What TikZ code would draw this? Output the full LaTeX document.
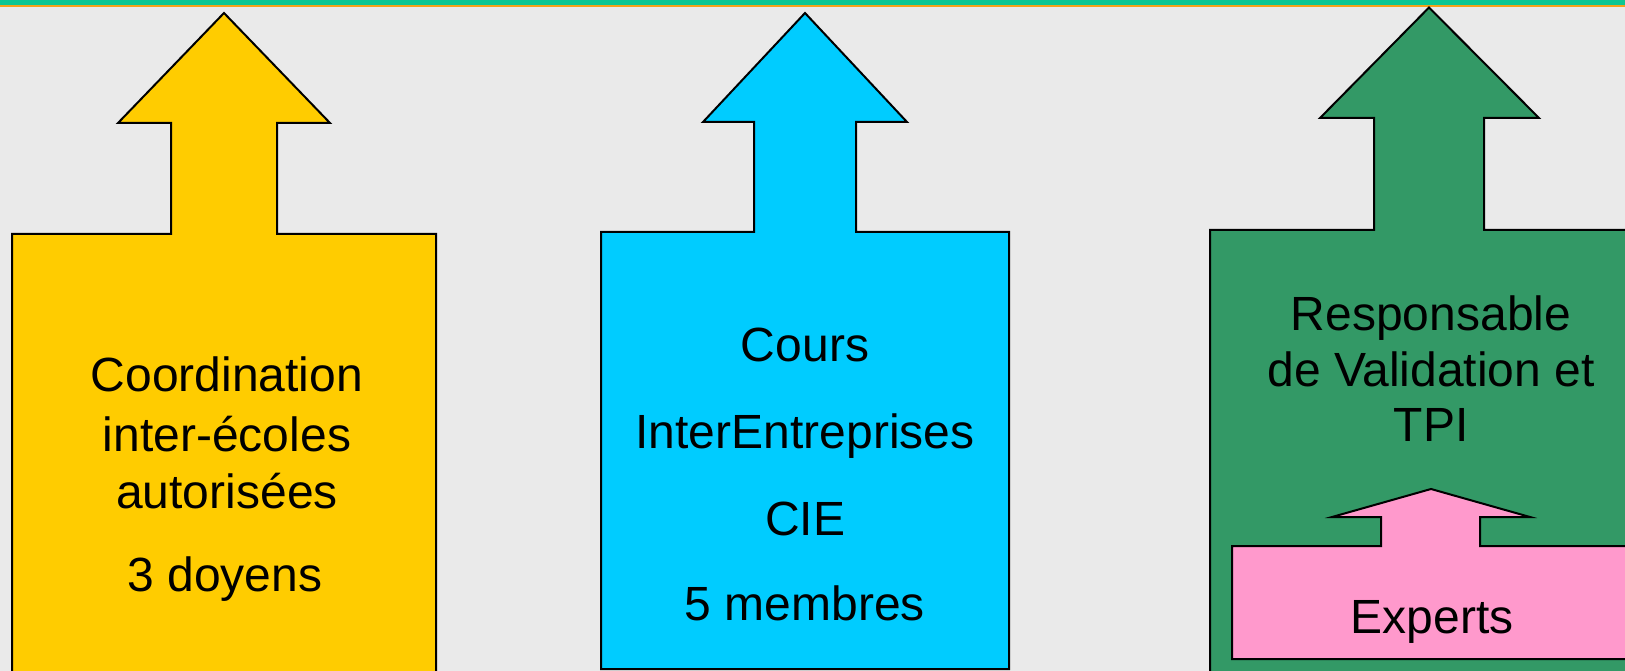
\documentclass[tikz,border=0pt]{standalone}
\usepackage{fontspec}
\setmainfont{Liberation Sans}
\definecolor{bgc}{HTML}{EAEAEA}
\definecolor{bandc}{HTML}{0CC793}
\definecolor{linec}{HTML}{F7A21B}
\definecolor{yel}{HTML}{FFCC00}
\definecolor{cya}{HTML}{00CCFF}
\definecolor{grn}{HTML}{339966}
\definecolor{pnk}{HTML}{FF99CC}
\tikzset{
  arrowshape/.style={draw=black, line width=2pt, line join=miter},
  lbl/.style={anchor=base, inner sep=0pt, font=\fontsize{48}{56}\selectfont, text=black}
}
\begin{document}
\begin{tikzpicture}[x=1pt,y=-1pt]
\useasboundingbox (0,0) rectangle (1625,671);
\clip (0,0) rectangle (1625,671);
\fill[bgc] (0,0) rectangle (1625,671);
\fill[bandc] (0,0) rectangle (1625,4.8);
\fill[linec] (0,4.8) rectangle (1625,6.7);
% yellow
\filldraw[arrowshape, fill=yel] (12,690) -- (12,234) -- (171,234) -- (171,123) -- (118,123) -- (224,13) -- (330,123) -- (277,123) -- (277,234) -- (436,234) -- (436,690) -- cycle;
% cyan
\filldraw[arrowshape, fill=cya] (601,669) -- (601,232) -- (754,232) -- (754,122) -- (703,122) -- (805,13) -- (907,122) -- (856,122) -- (856,232) -- (1009,232) -- (1009,669) -- cycle;
% green
\filldraw[arrowshape, fill=grn] (1210,690) -- (1210,230) -- (1374,230) -- (1374,118) -- (1320,118) -- (1429,7.5) -- (1539,118) -- (1484,118) -- (1484,230) -- (1650,230) -- (1650,690) -- cycle;
% pink
\filldraw[arrowshape, fill=pnk] (1232,659) -- (1232,546) -- (1381,546) -- (1381,517) -- (1332,517) -- (1431,489) -- (1530,517) -- (1480,517) -- (1480,546) -- (1640,546) -- (1640,659) -- cycle;
% texts
\node[lbl] (y1) at (227,391) {Coordination};
\node[lbl] (y2) at (227,451) {inter-écoles};
\node[lbl] (y3) at (227,508) {autorisées};
\node[lbl] (y4) at (225,591) {3 doyens};
\node[lbl] (c1) at (805,361) {Cours};
\node[lbl] (c2) at (805,448) {InterEntreprises};
\node[lbl] (c3) at (805,535) {CIE};
\node[lbl] (c4) at (805,620) {5 membres};
\node[lbl] (g1) at (1431,330) {Responsable};
\node[lbl] (g2) at (1431,386) {de Validation et};
\node[lbl] (g3) at (1431,441) {TPI};
\node[lbl] (p1) at (1432,633) {Experts};
\end{tikzpicture}
\end{document}
